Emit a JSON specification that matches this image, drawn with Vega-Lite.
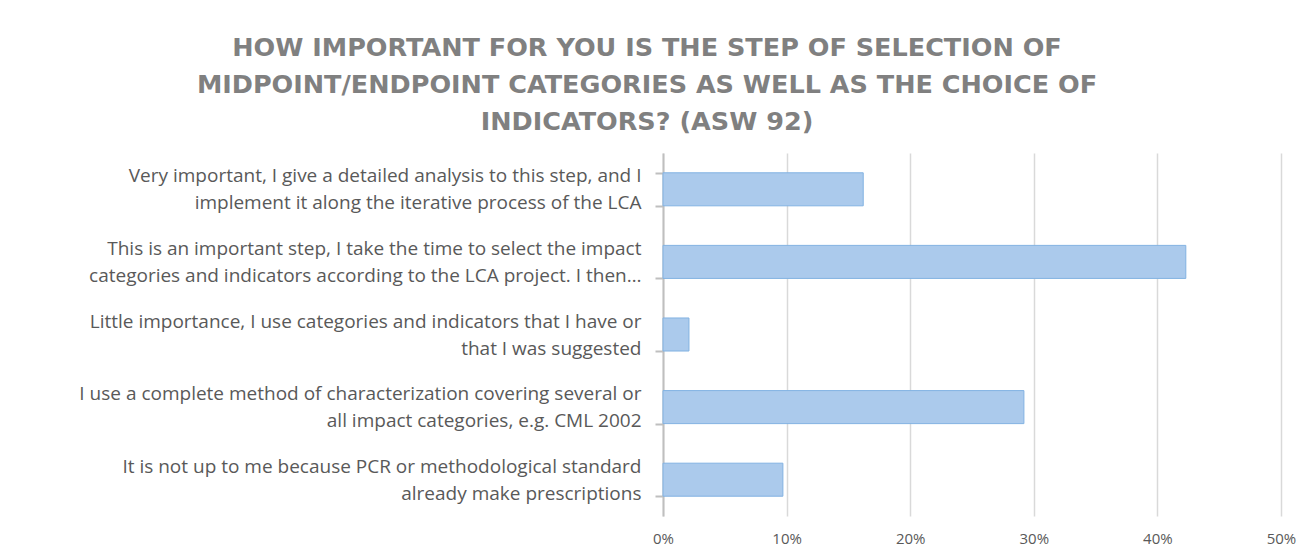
{
  "$schema": "https://vega.github.io/schema/vega-lite/v6.json",
  "width": 618,
  "height": 363,
  "autosize": {"type": "none"},
  "padding": {"left": 663, "top": 153, "right": 20, "bottom": 39},
  "background": "white",
  "title": {
    "text": ["HOW IMPORTANT FOR YOU IS THE STEP OF SELECTION OF", "MIDPOINT/ENDPOINT CATEGORIES AS WELL AS THE CHOICE OF", "INDICATORS? (ASW 92)"],
    "font": "DejaVu Sans",
    "fontSize": 25.5,
    "fontWeight": "bold",
    "color": "#808080",
    "anchor": "middle",
    "frame": "group",
    "dx": -325,
    "offset": 9,
    "lineHeight": 37
  },
  "data": {
    "values": [
      {"answer": "Very important, I give a detailed analysis to this step, and I|implement it along the iterative process of the LCA", "share": 0.162},
      {"answer": "This is an important step, I take the time to select the impact|categories and indicators according to the LCA project. I then…", "share": 0.423},
      {"answer": "Little importance, I use categories and indicators that I have or|that I was suggested", "share": 0.021},
      {"answer": "I use a complete method of characterization covering several or|all impact categories, e.g. CML 2002", "share": 0.292},
      {"answer": "It is not up to me because PCR or methodological standard|already make prescriptions", "share": 0.097}
    ]
  },
  "mark": {"type": "bar", "color": "#abcaec", "stroke": "#82b2e2", "strokeWidth": 1},
  "encoding": {
    "y": {
      "field": "answer",
      "type": "nominal",
      "sort": null,
      "scale": {"paddingInner": 0.545, "paddingOuter": 0.2725},
      "axis": {
        "title": null,
        "labelExpr": "split(datum.label, '|')",
        "labelFont": "Open Sans",
        "labelFontSize": 19,
        "labelColor": "#595959",
        "labelLineHeight": 27,
        "labelLimit": 700,
        "labelPadding": 14,
        "labelAlign": "right",
        "labelOffset": -13.5,
        "tickBand": "extent",
        "tickSize": 8,
        "tickColor": "#bfbfbf",
        "tickWidth": 2,
        "domainColor": "#bfbfbf",
        "domainWidth": 2,
        "grid": false
      }
    },
    "x": {
      "field": "share",
      "type": "quantitative",
      "scale": {"domain": [0, 0.5], "nice": false},
      "axis": {
        "title": null,
        "format": ".0%",
        "values": [0, 0.1, 0.2, 0.3, 0.4, 0.5],
        "labelFont": "Open Sans",
        "labelFontSize": 15,
        "labelColor": "#595959",
        "labelPadding": 15,
        "labelAlign": "center",
        "labelFlush": false,
        "domain": false,
        "ticks": false,
        "grid": true,
        "gridColor": "#d9d9d9",
        "gridWidth": 1.5
      }
    }
  },
  "config": {"view": {"stroke": null}}
}
